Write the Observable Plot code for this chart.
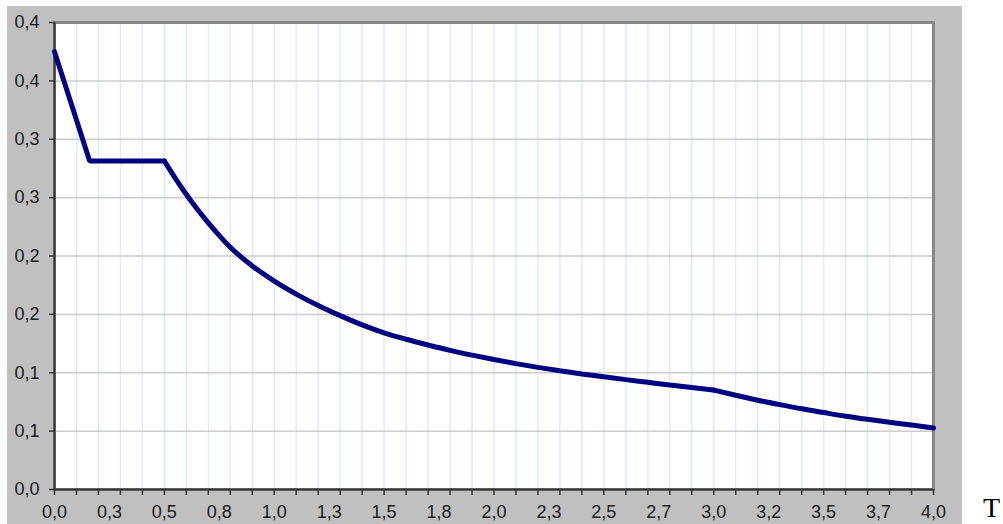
<!DOCTYPE html>
<html>
<head>
<meta charset="utf-8">
<script src="https://cdn.jsdelivr.net/npm/d3@7"></script>
<script src="https://cdn.jsdelivr.net/npm/@observablehq/plot@0.6"></script>
<style>
  html, body { margin: 0; padding: 0; background: white; }
  #wrap { position: relative; width: 1003px; height: 524px; overflow: hidden; }
  #bg { position: absolute; left: 7px; top: 6px; width: 955px; height: 518px; background: #c0c0c0; }
  #chart { position: absolute; left: 0; top: 0; }
  #tlabel { position: absolute; left: 983px; top: 494px; font: 28px "Liberation Serif", "Times New Roman", serif; line-height: 1; color: #000; }
</style>
</head>
<body>
<div id="wrap">
  <div id="bg"></div>
  <div id="chart"></div>
  <div id="tlabel">T</div>
</div>
<script>
// Period T (s) and spectral value
const periods = [0, 0.16, 0.5, 0.55, 0.6, 0.65, 0.7, 0.75, 0.8, 0.9, 1.0, 1.1, 1.2, 1.3, 1.4, 1.5, 1.6, 1.7, 1.8, 1.9, 2.0,
  2.1, 2.2, 2.3, 2.4, 2.5, 2.6, 2.7, 2.8, 2.9, 3.0, 3.1, 3.2, 3.3, 3.4, 3.5, 3.6, 3.7, 3.8, 3.9, 4.0];
const values = [0.375, 0.2813, 0.2813, 0.2665, 0.2527, 0.2400, 0.2283, 0.2175, 0.2075, 0.1915, 0.1785, 0.1674, 0.1576, 0.1489, 0.1410, 0.1342, 0.1287, 0.1238, 0.1192, 0.1151, 0.1113,
  0.1078, 0.1046, 0.1017, 0.0990, 0.0965, 0.0941, 0.0918, 0.0895, 0.0873, 0.0852, 0.0807, 0.0765, 0.0727, 0.0691, 0.0659, 0.0628, 0.0601, 0.0576, 0.0552, 0.0527];
// corners of the spectrum (end of plateau, start of last branch)
const branchBreaks = [0.5, 3.0];

// Axis tick labels (as printed on the chart)
const xTickLabels = ["0,0","0,3","0,5","0,8","1,0","1,3","1,5","1,8","2,0","2,3","2,5","2,7","3,0","3,2","3,5","3,7","4,0"];
const yTickLabels = ["0,0","0,1","0,1","0,2","0,2","0,3","0,3","0,4","0,4"];

const xLabelStep = 0.25;
const xMinorStep = 0.1;
const yStep = 0.05;

const xLabelTicks = xTickLabels.map((_, i) => i * xLabelStep);
const xMinorTicks = d3.range(0, 41).map(i => i * xMinorStep);
const yTicks = yTickLabels.map((_, i) => i * yStep);

const data = periods.map((t, i) => ({t, v: values[i]}));
const seg1 = data.filter(d => d.t <= branchBreaks[0]);
const seg2 = data.filter(d => d.t >= branchBreaks[0] && d.t <= branchBreaks[1]);
const seg3 = data.filter(d => d.t >= branchBreaks[1]);

const lineStyle = { x: "t", y: "v", stroke: "#000080", strokeWidth: 5, strokeLinejoin: "miter", strokeLinecap: "round" };

const chart = Plot.plot({
  width: 1003,
  height: 524,
  marginLeft: 54,
  marginRight: 70,
  marginTop: 22,
  marginBottom: 35,
  style: { background: "transparent", fontFamily: "'Liberation Sans', Arial, sans-serif", fontSize: "18px", color: "#1a1a1a" },
  x: { domain: [0, 4], axis: null, label: null },
  y: { domain: [0, 0.4], axis: null, label: null },
  marks: [
    Plot.frame({ fill: "white" }),
    Plot.ruleX(xMinorTicks.slice(1), { stroke: "#dbeef6", strokeWidth: 1.5 }),
    Plot.ruleY(yTicks.slice(1), { stroke: "#cccccc", strokeWidth: 1.5 }),
    Plot.frame({ stroke: "#888888", strokeWidth: 3 }),
    Plot.axisY(yTicks, {
      anchor: "left", tickSize: 5, tickPadding: 10, stroke: "#333", strokeWidth: 1.5,
      fontSize: 18, fill: "#1a1a1a",
      tickFormat: d => yTickLabels[Math.round(d / yStep)]
    }),
    Plot.axisX(xMinorTicks, {
      anchor: "bottom", tickSize: 6, stroke: "#333", strokeWidth: 1.5, tickFormat: () => ""
    }),
    Plot.axisX(xLabelTicks, {
      anchor: "bottom", tickSize: 0, tickPadding: 16, fontSize: 18, fill: "#1a1a1a",
      tickFormat: d => xTickLabels[Math.round(d / xLabelStep)]
    }),
    Plot.ruleX([0], { stroke: "#333", strokeWidth: 2 }),
    Plot.ruleY([0], { stroke: "#333", strokeWidth: 2 }),
    Plot.line(seg1, { ...lineStyle, curve: "linear" }),
    Plot.line(seg2, { ...lineStyle, curve: "monotone-x" }),
    Plot.line(seg3, { ...lineStyle, curve: "monotone-x" })
  ]
});
document.getElementById("chart").appendChild(chart);
</script>
</body>
</html>
